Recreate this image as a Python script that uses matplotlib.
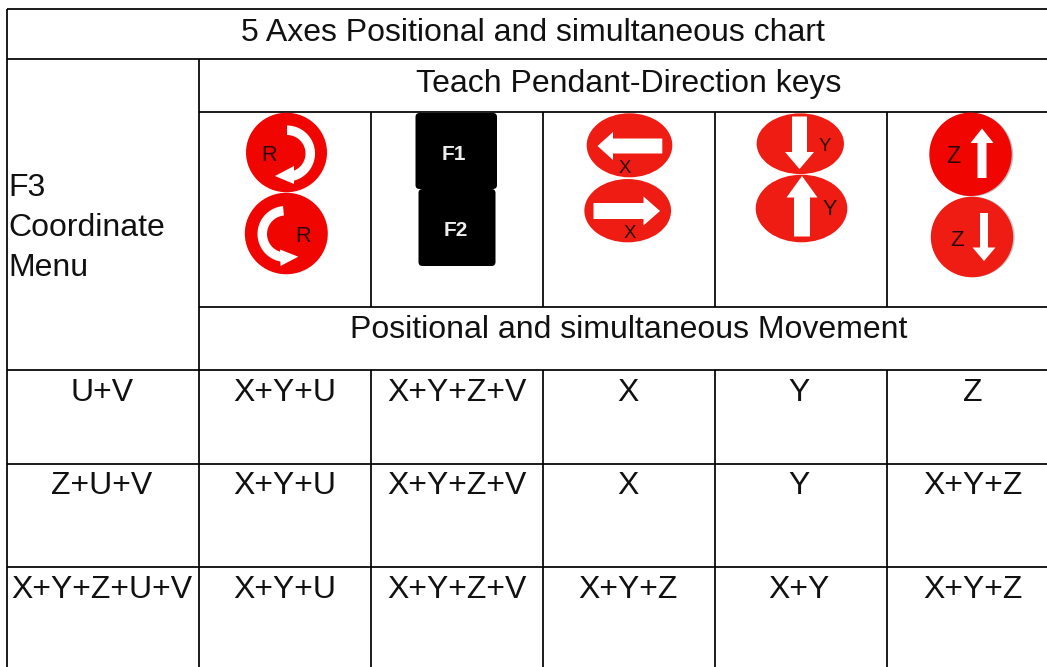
import numpy as np
import matplotlib
matplotlib.use("Agg")
import matplotlib.pyplot as plt
from matplotlib.patches import Ellipse, FancyBboxPatch, Polygon

# ---- chart content ----
title = "5 Axes Positional and simultaneous chart"
header_top = "Teach Pendant-Direction keys"
header_bottom = "Positional and simultaneous Movement"
side_label = ["F3", "Coordinate", "Menu"]
menu_labels = ["U+V", "Z+U+V", "X+Y+Z+U+V"]
col_r = ["X+Y+U", "X+Y+U", "X+Y+U"]
col_f = ["X+Y+Z+V", "X+Y+Z+V", "X+Y+Z+V"]
col_x = ["X", "X", "X+Y+Z"]
col_y = ["Y", "Y", "X+Y"]
col_z = ["Z", "X+Y+Z", "X+Y+Z"]

# ---- layout (pixels) ----
W, H = 1047, 667
plt.rcParams["font.family"] = ["Liberation Sans", "DejaVu Sans"]
fig = plt.figure(figsize=(W / 100, H / 100), dpi=100)
ax = fig.add_axes([0, 0, 1, 1])
ax.set_xlim(0, W)
ax.set_ylim(H, 0)
ax.axis("off")

LW = 1.25
FS = 23.0
DARK = "#111111"


def hline(y, x0, x1=W):
    ax.plot([x0, x1], [y, y], color="black", lw=LW, solid_capstyle="butt")


def vline(x, y0, y1=H):
    ax.plot([x, x], [y0, y1], color="black", lw=LW, solid_capstyle="butt")


LEFT, C0 = 7, 199
col_edges = [371, 543, 715, 887]
hline(9, LEFT)
hline(59, LEFT)
hline(112, C0)
hline(306.5, C0)
for y in (370, 464, 567):
    hline(y, LEFT)
vline(LEFT, 9)
vline(C0, 59)
for x in col_edges:
    vline(x, 112, 306.5)
    vline(x, 370)


def txt(x, y, s, ha="center", **kw):
    kw.setdefault("fontsize", FS)
    kw.setdefault("color", DARK)
    ax.text(x, y, s, ha=ha, va="baseline", **kw)


txt(532.5, 41, title)
txt(629, 92, header_top)
txt(629, 338, header_bottom)
for y, s in zip((196.5, 236.5, 276.5), side_label):
    txt(8, y, s, ha="left")

row_base = [401, 494, 598]
col_centres = [102, 285, 457, 628, 799, 973]
columns = [menu_labels, col_r, col_f, col_x, col_y, col_z]
for cx, column in zip(col_centres, columns):
    for y, s in zip(row_base, column):
        txt(cx, y, s)


# ---- icons (pixels) ----
def disc(cx, cy, w, h, color):
    ax.add_patch(Ellipse((cx, cy), w, h, facecolor=color, edgecolor="none", zorder=3))


def poly(points, color="white", z=4):
    ax.add_patch(Polygon(points, closed=True, facecolor=color, edgecolor="none", zorder=z))


def arrow_h(x_tail, x_head_base, x_tip, yc, half_shaft, half_head):
    poly([(x_tail, yc - half_shaft), (x_head_base, yc - half_shaft), (x_head_base, yc - half_head),
          (x_tip, yc), (x_head_base, yc + half_head), (x_head_base, yc + half_shaft),
          (x_tail, yc + half_shaft)])


def arrow_v(y_tail, y_head_base, y_tip, xc, half_shaft, half_head):
    poly([(xc - half_shaft, y_tail), (xc - half_shaft, y_head_base), (xc - half_head, y_head_base),
          (xc, y_tip), (xc + half_head, y_head_base), (xc + half_shaft, y_head_base),
          (xc + half_shaft, y_tail)])


def arc_band(cx, cy, r_out, r_in, a0, a1):
    t = np.radians(np.linspace(a0, a1, 60))
    outer = np.c_[cx + r_out * np.cos(t), cy + r_out * np.sin(t)]
    inner = np.c_[cx + r_in * np.cos(t), cy + r_in * np.sin(t)]
    poly(np.vstack([outer, inner[::-1]]))


def icon_label(x, y, s, size):
    ax.text(x, y, s, ha="center", va="baseline", fontsize=size, color="#2a0505", zorder=5)


RED_A = "#f00500"
RED_B = "#ee1c12"

# R keys
disc(286.5, 152.5, 81, 79.5, RED_A)
arc_band(287, 153.5, 28, 18.5, -90, 85)
poly([(275, 176), (294, 166), (294, 184)])
icon_label(269.3, 160.7, "R", 15.7)

disc(286.3, 233.5, 83, 81.5, RED_A)
arc_band(285.5, 234, 28, 18.5, 98, 265)
poly([(298.3, 256.7), (280, 249.5), (280.5, 266)])
icon_label(303, 241.7, "R", 15.7)

# F keys
for (x0, y0, w, h) in [(415.5, 113, 81.5, 76), (418.5, 189, 77, 77)]:
    ax.add_patch(FancyBboxPatch((x0 + 3, y0 + 3), w - 6, h - 6, boxstyle="round,pad=3,rounding_size=4",
                                facecolor="black", edgecolor="none", zorder=3))
ax.text(454, 160, "F1", ha="center", va="baseline", fontsize=15, fontweight="bold", color="#eeeeee", zorder=5)
ax.text(455.7, 236, "F2", ha="center", va="baseline", fontsize=15, fontweight="bold", color="#eeeeee", zorder=5)

# X keys
disc(629.5, 145.3, 85.6, 64, RED_B)
arrow_h(662.3, 613, 597.5, 146, 7.5, 14)
icon_label(625, 172.7, "X", 13.4)
disc(627.7, 210.7, 86.7, 63.3, RED_B)
arrow_h(593.5, 643.5, 660, 211, 8, 14.5)
icon_label(630, 237.7, "X", 13.4)

# Y keys
disc(800.3, 143.7, 87.3, 60.7, RED_B)
arrow_v(116.5, 152, 169, 799.5, 7.5, 14.5)
icon_label(825, 150.7, "Y", 13.4)
disc(801.5, 208.5, 91.6, 67.6, RED_B)
arrow_v(236.5, 197.5, 176, 802, 8, 15.5)
icon_label(830, 215, "Y", 15.5)

# Z keys
disc(972, 154.8, 82.4, 83.4, "#b9c0c0")
disc(970.5, 154.3, 82.4, 83.4, RED_A)
arrow_v(178, 143, 128.5, 982, 4.5, 11.5)
icon_label(953.7, 163.3, "Z", 16.8)
disc(973.5, 237, 82.4, 80.5, "#c4c8c8")
disc(972, 237, 82.4, 80.5, RED_B)
arrow_v(213, 247.5, 261, 984, 4, 11.5)
icon_label(956.7, 246, "Z", 16)

fig.savefig("out.png", dpi=100, facecolor="white")
